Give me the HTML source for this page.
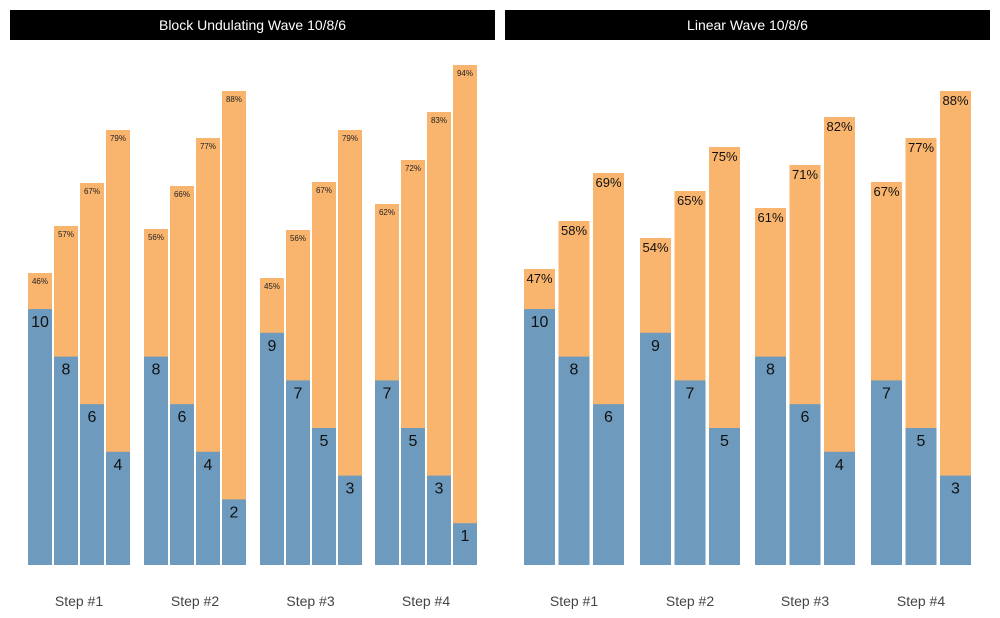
<!DOCTYPE html>
<html><head><meta charset="utf-8"><style>
body{margin:0;background:#fff;}
svg{display:block;font-family:"Liberation Sans",Arial,sans-serif;}
</style></head><body>
<svg width="1000" height="618" viewBox="0 0 1000 618" xmlns="http://www.w3.org/2000/svg">
<rect x="10" y="10" width="485" height="30" fill="#000"/>
<rect x="505" y="10" width="485" height="30" fill="#000"/>
<text x="252.5" y="30" fill="#fff" font-size="14" text-anchor="middle">Block Undulating Wave 10/8/6</text>
<text x="747.5" y="30" fill="#fff" font-size="14" text-anchor="middle">Linear Wave 10/8/6</text>

<g fill="#f9b46d">
<rect x="28" y="273" width="24" height="292"/><rect x="54" y="226" width="24" height="339"/><rect x="80" y="183" width="24" height="382"/><rect x="106" y="130" width="24" height="435"/>
<rect x="144" y="229" width="24" height="336"/><rect x="170" y="186" width="24" height="379"/><rect x="196" y="138" width="24" height="427"/><rect x="222" y="91" width="24" height="474"/>
<rect x="260" y="278" width="24" height="287"/><rect x="286" y="230" width="24" height="335"/><rect x="312" y="182" width="24" height="383"/><rect x="338" y="130" width="24" height="435"/>
<rect x="375" y="204" width="24" height="361"/><rect x="401" y="160" width="24" height="405"/><rect x="427" y="112" width="24" height="453"/><rect x="453" y="65" width="24" height="500"/>
<rect x="524" y="269" width="31" height="296"/><rect x="558.5" y="221" width="31" height="344"/><rect x="593" y="173" width="31" height="392"/>
<rect x="640" y="238" width="31" height="327"/><rect x="674.5" y="191" width="31" height="374"/><rect x="709" y="147" width="31" height="418"/>
<rect x="755" y="208" width="31" height="357"/><rect x="789.5" y="165" width="31" height="400"/><rect x="824" y="117" width="31" height="448"/>
<rect x="871" y="182" width="31" height="383"/><rect x="905.5" y="138" width="31" height="427"/><rect x="940" y="91" width="31" height="474"/>
</g>
<g fill="#6d9abd">
<rect x="28" y="309" width="24" height="256"/><rect x="54" y="356.6" width="24" height="208.4"/><rect x="80" y="404.2" width="24" height="160.8"/><rect x="106" y="451.8" width="24" height="113.2"/>
<rect x="144" y="356.6" width="24" height="208.4"/><rect x="170" y="404.2" width="24" height="160.8"/><rect x="196" y="451.8" width="24" height="113.2"/><rect x="222" y="499.4" width="24" height="65.6"/>
<rect x="260" y="332.8" width="24" height="232.2"/><rect x="286" y="380.4" width="24" height="184.6"/><rect x="312" y="428" width="24" height="137"/><rect x="338" y="475.6" width="24" height="89.4"/>
<rect x="375" y="380.4" width="24" height="184.6"/><rect x="401" y="428" width="24" height="137"/><rect x="427" y="475.6" width="24" height="89.4"/><rect x="453" y="523.2" width="24" height="41.8"/>
<rect x="524" y="309" width="31" height="256"/><rect x="558.5" y="356.6" width="31" height="208.4"/><rect x="593" y="404.2" width="31" height="160.8"/>
<rect x="640" y="332.8" width="31" height="232.2"/><rect x="674.5" y="380.4" width="31" height="184.6"/><rect x="709" y="428" width="31" height="137"/>
<rect x="755" y="356.6" width="31" height="208.4"/><rect x="789.5" y="404.2" width="31" height="160.8"/><rect x="824" y="451.8" width="31" height="113.2"/>
<rect x="871" y="380.4" width="31" height="184.6"/><rect x="905.5" y="428" width="31" height="137"/><rect x="940" y="475.6" width="31" height="89.4"/>
</g>
<g font-size="16" fill="#111" text-anchor="middle">
<text x="40" y="327">10</text><text x="66" y="374.6">8</text><text x="92" y="422.2">6</text><text x="118" y="469.8">4</text>
<text x="156" y="374.6">8</text><text x="182" y="422.2">6</text><text x="208" y="469.8">4</text><text x="234" y="517.4">2</text>
<text x="272" y="350.8">9</text><text x="298" y="398.4">7</text><text x="324" y="446">5</text><text x="350" y="493.6">3</text>
<text x="387" y="398.4">7</text><text x="413" y="446">5</text><text x="439" y="493.6">3</text><text x="465" y="541.2">1</text>
<text x="539.5" y="327">10</text><text x="574" y="374.6">8</text><text x="608.5" y="422.2">6</text>
<text x="655.5" y="350.8">9</text><text x="690" y="398.4">7</text><text x="724.5" y="446">5</text>
<text x="770.5" y="374.6">8</text><text x="805" y="422.2">6</text><text x="839.5" y="469.8">4</text>
<text x="886.5" y="398.4">7</text><text x="921" y="446">5</text><text x="955.5" y="493.6">3</text>
</g>
<g font-size="8" fill="#222" text-anchor="middle">
<text x="40" y="284">46%</text><text x="66" y="237">57%</text><text x="92" y="194">67%</text><text x="118" y="141">79%</text>
<text x="156" y="240">56%</text><text x="182" y="197">66%</text><text x="208" y="149">77%</text><text x="234" y="102">88%</text>
<text x="272" y="289">45%</text><text x="298" y="241">56%</text><text x="324" y="193">67%</text><text x="350" y="141">79%</text>
<text x="387" y="215">62%</text><text x="413" y="171">72%</text><text x="439" y="123">83%</text><text x="465" y="76">94%</text>
</g>
<g font-size="13" fill="#111" text-anchor="middle">
<text x="539.5" y="283">47%</text><text x="574" y="235">58%</text><text x="608.5" y="187">69%</text>
<text x="655.5" y="252">54%</text><text x="690" y="205">65%</text><text x="724.5" y="161">75%</text>
<text x="770.5" y="222">61%</text><text x="805" y="179">71%</text><text x="839.5" y="131">82%</text>
<text x="886.5" y="196">67%</text><text x="921" y="152">77%</text><text x="955.5" y="105">88%</text>
</g>
<g font-size="14" fill="#444" text-anchor="middle">
<text x="79" y="606">Step #1</text><text x="195" y="606">Step #2</text><text x="310.5" y="606">Step #3</text><text x="426" y="606">Step #4</text>
<text x="574" y="606">Step #1</text><text x="690" y="606">Step #2</text><text x="805" y="606">Step #3</text><text x="921" y="606">Step #4</text>
</g>
</svg>
</body></html>
